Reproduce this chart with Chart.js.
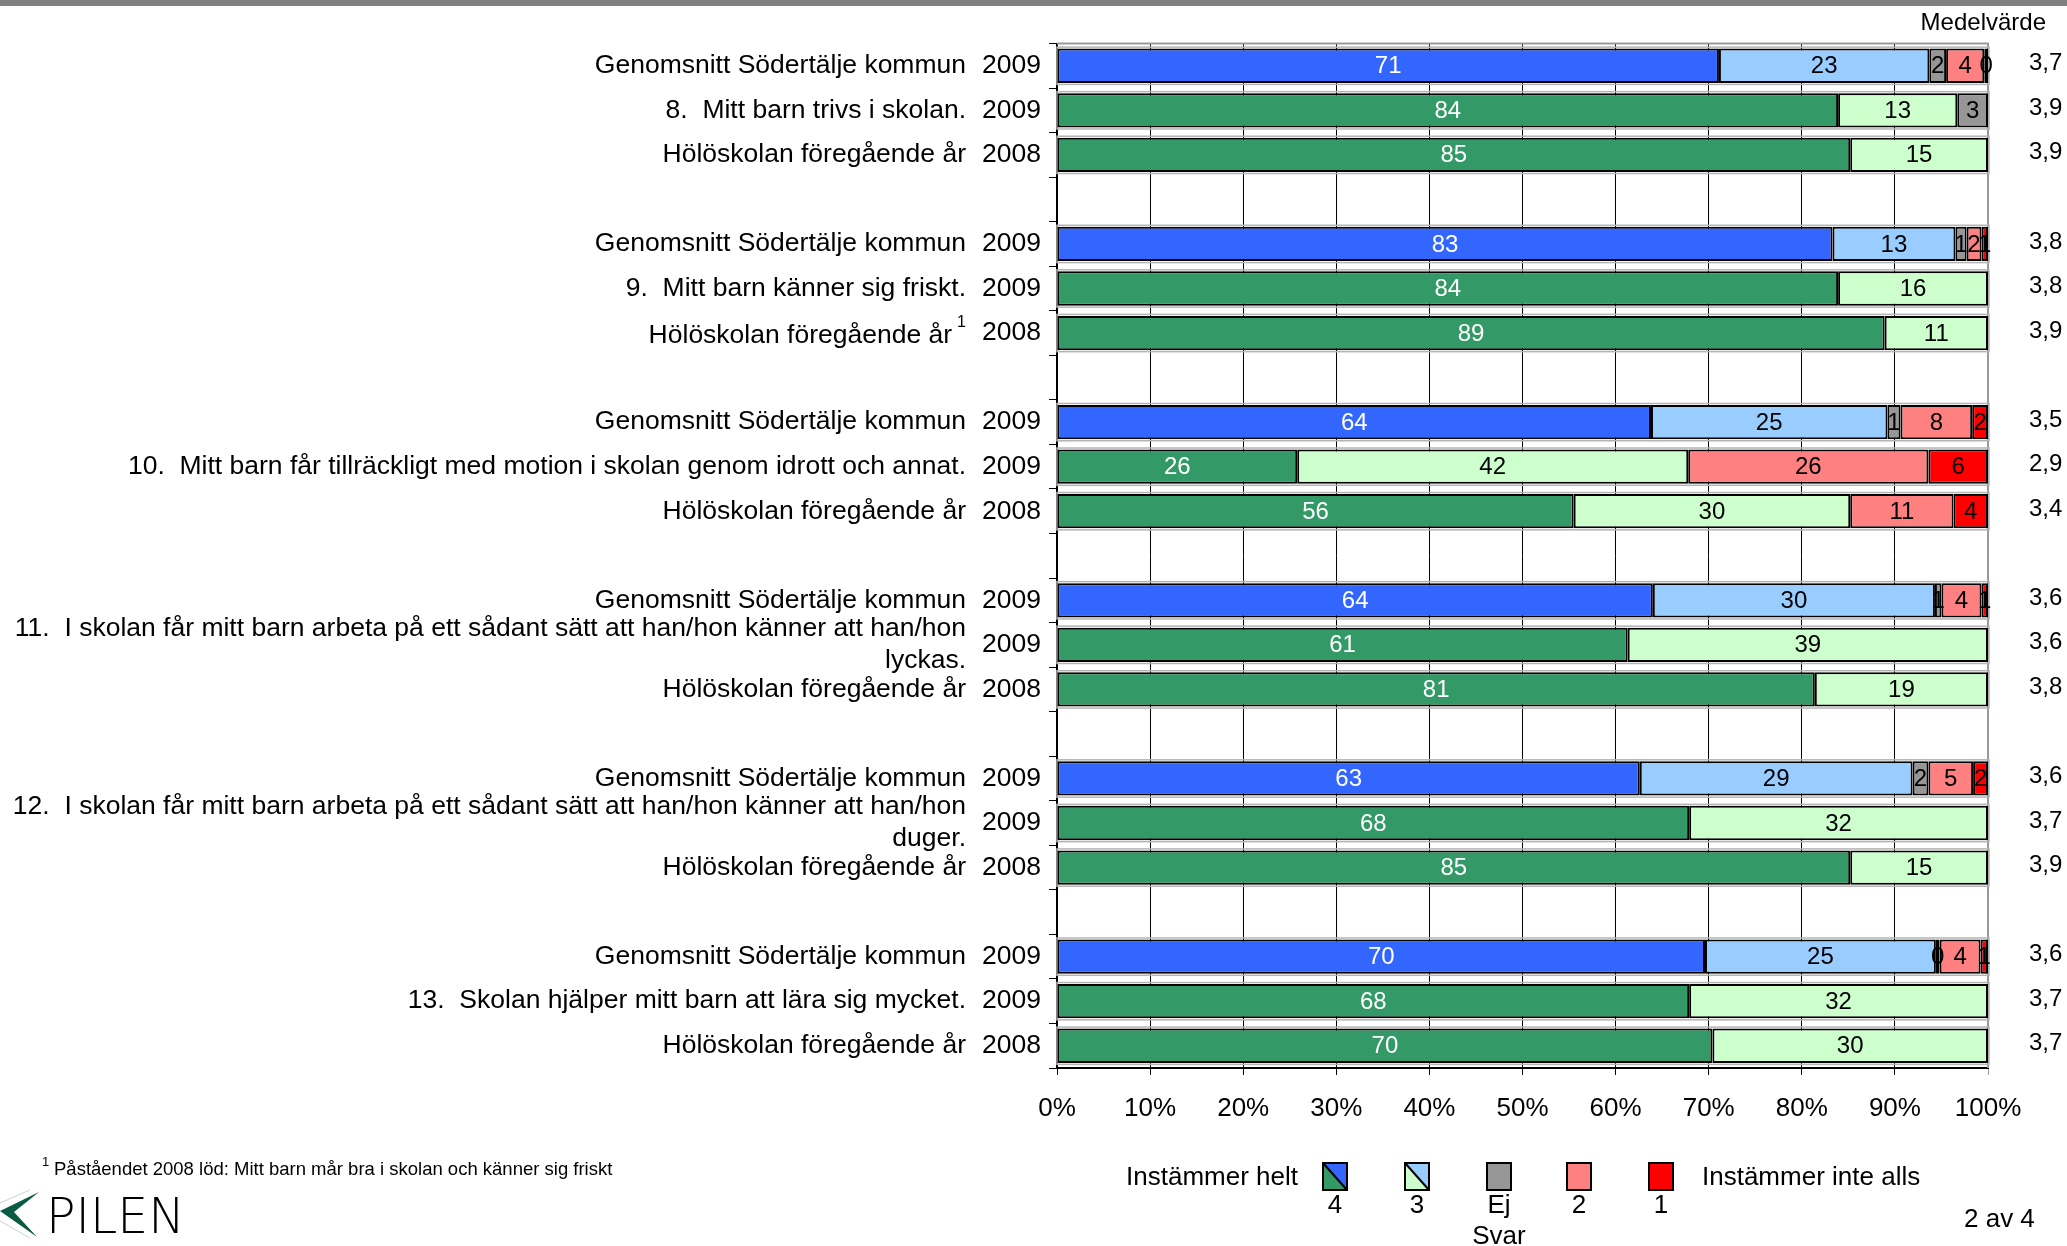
<!DOCTYPE html>
<html><head><meta charset="utf-8">
<script src="https://cdn.jsdelivr.net/npm/chart.js@4.4.1/dist/chart.umd.min.js"></script>
<style>html,body{margin:0;padding:0;background:#fff;overflow:hidden}canvas{display:block}</style>
</head><body>
<canvas id="c" width="2067" height="1246"></canvas>
<script>
// ---- DATA ----
const rowKeys = ["r0","r1","r2","g1","r4","r5","r6","g2","r8","r9","r10","g3","r12","r13","r14","g4","r16","r17","r18","g5","r20","r21","r22"];
const rowLabels = [
  "Genomsnitt Södertälje kommun", "8.  Mitt barn trivs i skolan.", "Hölöskolan föregående år", "",
  "Genomsnitt Södertälje kommun", "9.  Mitt barn känner sig friskt.", "Hölöskolan föregående år", "",
  "Genomsnitt Södertälje kommun", "10.  Mitt barn får tillräckligt med motion i skolan genom idrott och annat.", "Hölöskolan föregående år", "",
  "Genomsnitt Södertälje kommun", ["11.  I skolan får mitt barn arbeta på ett sådant sätt att han/hon känner att han/hon", "lyckas."], "Hölöskolan föregående år", "",
  "Genomsnitt Södertälje kommun", ["12.  I skolan får mitt barn arbeta på ett sådant sätt att han/hon känner att han/hon", "duger."], "Hölöskolan föregående år", "",
  "Genomsnitt Södertälje kommun", "13.  Skolan hjälper mitt barn att lära sig mycket.", "Hölöskolan föregående år"
];
const rowNotes = ["","","","","","","1","","","","","","","","","","","","","","","",""];
const years = ["2009","2009","2008","","2009","2009","2008","","2009","2009","2008","","2009","2009","2008","","2009","2009","2008","","2009","2009","2008"];
const rowIsAverage = [1,0,0,0,1,0,0,0,1,0,0,0,1,0,0,0,1,0,0,0,1,0,0];
const means = ["3,7","3,9","3,9","","3,8","3,8","3,9","","3,5","2,9","3,4","","3,6","3,6","3,8","","3,6","3,7","3,9","","3,6","3,7","3,7"];

const v4  = [71.1, 83.9, 85.2, null, 83.3, 83.9, 88.9, null, 63.8, 25.8, 55.5, null, 64.0, 61.3, 81.4, null, 62.6, 67.9, 85.2, null, 69.6, 67.9, 70.4];
const v3  = [22.6, 12.8, 14.8, null, 13.2, 16.1, 11.1, null, 25.4, 42.0, 29.7, null, 30.3, 38.7, 18.6, null, 29.3, 32.1, 14.8, null, 24.8, 32.1, 29.6];
const vEj = [1.8, 3.3, null, null, 1.2, null, null, null, 1.4, null, null, null, 0.7, null, null, null, 1.7, null, null, null, 0.4, null, null];
const v2  = [4.1, null, null, null, 1.6, null, null, null, 7.7, 25.8, 11.1, null, 4.3, null, null, null, 4.8, null, null, null, 4.4, null, null];
const v1  = [0.4, null, null, null, 0.7, null, null, null, 1.7, 6.4, 3.7, null, 0.7, null, null, null, 1.6, null, null, null, 0.8, null, null];

const xTicks = [0,10,20,30,40,50,60,70,80,90,100];
const legendCodes = ["4","3","Ej","2","1"];

// ---- STYLE ----
const FONT = '"Liberation Sans", Arial, sans-serif';
const C = {blue:"#3366FF", lblue:"#99CCFF", green:"#339966", lgreen:"#CCFFCC", gray:"#969696", pink:"#FF8080", red:"#FF0000"};
Chart.defaults.font.family = FONT;

const pick = (a, b) => (ctx) => rowIsAverage[ctx.dataIndex] ? a : b;
const mk = (label, data, bg) => ({label, data, backgroundColor: bg, borderColor: "#000", borderWidth: 2, borderSkipped: false, barPercentage: 0.77, categoryPercentage: 1});

const deco = {
  id: "deco",
  beforeDraw(chart) {
    const ctx = chart.ctx;
    ctx.save();
    ctx.fillStyle = "#fff"; ctx.fillRect(0, 0, chart.width, chart.height);
    ctx.fillStyle = "#808080"; ctx.fillRect(0, 0, chart.width, 6);
    ctx.restore();
  },
  beforeDatasetsDraw(chart) {
    const {ctx, chartArea: a} = chart;
    ctx.save();
    ctx.strokeStyle = "#999"; ctx.lineWidth = 2;
    ctx.beginPath(); ctx.moveTo(a.left, a.top); ctx.lineTo(a.right, a.top); ctx.lineTo(a.right, a.bottom); ctx.stroke();
    // light gray halo around each full bar
    const m0 = chart.getDatasetMeta(0);
    ctx.strokeStyle = "#b4b4b4"; ctx.lineWidth = 1.5;
    m0.data.forEach((el, j) => {
      if (chart.data.datasets[0].data[j] == null) return;
      let right = el.x;
      chart.data.datasets.forEach((ds, di) => {
        if (ds.data[j] != null) right = Math.max(right, chart.getDatasetMeta(di).data[j].x);
      });
      const h = el.height;
      ctx.strokeRect(el.base - 0.5, el.y - h / 2 - 1.5, right - el.base + 1.5, h + 3);
    });
    ctx.restore();
  },
  afterDraw(chart) {
    const ctx = chart.ctx;
    const ys = chart.scales.y;
    ctx.save();
    ctx.textBaseline = "middle";
    const LF = "26.5px " + FONT;
    ctx.fillStyle = "#000";
    for (let i = 0; i < rowKeys.length; i++) {
      const y = ys.getPixelForValue(i);
      const lab = rowLabels[i];
      ctx.font = LF;
      if (Array.isArray(lab)) {
        ctx.textAlign = "right";
        ctx.fillText(lab[0], 966, y - 16);
        ctx.fillText(lab[1], 966, y + 16);
      } else if (lab) {
        let right = 966;
        if (rowNotes[i]) {
          ctx.font = "16px " + FONT; ctx.textAlign = "right";
          ctx.fillText(rowNotes[i], right, y - 10);
          right -= ctx.measureText(rowNotes[i]).width + 5;
          ctx.font = LF;
        }
        ctx.textAlign = "right";
        ctx.fillText(lab, right, y + (rowNotes[i] ? 3 : 0));
      }
      ctx.font = LF;
      if (years[i]) { ctx.textAlign = "right"; ctx.fillText(years[i], 1041, y); }
      if (means[i]) { ctx.font = "24px " + FONT; ctx.textAlign = "left"; ctx.fillText(means[i], 2029, y - 2); }
    }
    ctx.font = "24px " + FONT; ctx.textAlign = "right";
    ctx.fillText("Medelvärde", 2046, 23);
    // bar value labels
    ctx.font = "24px " + FONT; ctx.textAlign = "center";
    chart.data.datasets.forEach((ds, di) => {
      const meta = chart.getDatasetMeta(di);
      meta.data.forEach((el, j) => {
        const v = ds.data[j];
        if (v === null || v === undefined) return;
        ctx.fillStyle = di === 0 ? "#fff" : "#000";
        ctx.fillText(String(Math.round(v)), (el.x + el.base) / 2, el.y + 1);
      });
    });
    // legend
    ctx.fillStyle = "#000";
    ctx.font = "26px " + FONT;
    ctx.textAlign = "right"; ctx.fillText("Instämmer helt", 1298, 1178);
    ctx.textAlign = "left"; ctx.fillText("Instämmer inte alls", 1702, 1178);
    const lx = [1335, 1417, 1499, 1579, 1661];
    const bw = 24, bh = 27, bt = 1163;
    const fills = [[C.blue, C.green], [C.lblue, C.lgreen], [C.gray], [C.pink], [C.red]];
    lx.forEach((cx, k) => {
      const x0 = cx - bw / 2;
      const f = fills[k];
      if (f.length === 2) {
        ctx.fillStyle = f[0];
        ctx.beginPath(); ctx.moveTo(x0, bt); ctx.lineTo(x0 + bw, bt); ctx.lineTo(x0 + bw, bt + bh); ctx.closePath(); ctx.fill();
        ctx.fillStyle = f[1];
        ctx.beginPath(); ctx.moveTo(x0, bt); ctx.lineTo(x0, bt + bh); ctx.lineTo(x0 + bw, bt + bh); ctx.closePath(); ctx.fill();
        ctx.strokeStyle = "#000"; ctx.lineWidth = 2;
        ctx.beginPath(); ctx.moveTo(x0, bt); ctx.lineTo(x0 + bw, bt + bh); ctx.stroke();
      } else {
        ctx.fillStyle = f[0]; ctx.fillRect(x0, bt, bw, bh);
      }
      ctx.strokeStyle = "#000"; ctx.lineWidth = 2; ctx.strokeRect(x0, bt, bw, bh);
      ctx.fillStyle = "#000"; ctx.textAlign = "center"; ctx.font = "26px " + FONT;
      ctx.fillText(legendCodes[k], cx, 1206);
    });
    ctx.fillText("Svar", 1499, 1237);
    ctx.textAlign = "left";
    ctx.fillText("2 av 4", 1964, 1220);
    // footnote
    ctx.font = "13px " + FONT; ctx.fillText("1", 42, 1162);
    ctx.font = "18.5px " + FONT; ctx.fillText("Påståendet 2008 löd: Mitt barn mår bra i skolan och känner sig friskt", 54, 1170);
    // logo
    ctx.strokeStyle = "#c8d2cf"; ctx.lineWidth = 1;
    ctx.beginPath(); ctx.moveTo(0, 1203); ctx.lineTo(30, 1190); ctx.moveTo(0, 1221); ctx.lineTo(30, 1238); ctx.stroke();
    ctx.fillStyle = "#0b5a42";
    ctx.beginPath(); ctx.moveTo(39, 1192); ctx.lineTo(0, 1211); ctx.lineTo(37, 1237); ctx.lineTo(14, 1212); ctx.closePath(); ctx.fill();
    ctx.fillStyle = "#000";
    ctx.font = '200 49px "DejaVu Sans", sans-serif';
    ctx.textBaseline = "alphabetic";
    ctx.fillText("PILEN", 46, 1233);
    ctx.restore();
  }
};

new Chart(document.getElementById("c"), {
  type: "bar",
  data: {
    labels: rowKeys,
    datasets: [
      mk("4", v4, pick(C.blue, C.green)),
      mk("3", v3, pick(C.lblue, C.lgreen)),
      mk("Ej Svar", vEj, C.gray),
      mk("2", v2, C.pink),
      mk("1", v1, C.red)
    ]
  },
  options: {
    indexAxis: "y",
    responsive: false,
    animation: false,
    devicePixelRatio: 1,
    layout: {padding: {top: 43.5, right: 79, left: 0, bottom: 0}},
    plugins: {legend: {display: false}, tooltip: {enabled: false}},
    scales: {
      x: {
        stacked: true, min: 0, max: 100,
        afterBuildTicks: (s) => { s.ticks = xTicks.map(v => ({value: v})); },
        afterFit: (s) => { s.height = 178; },
        ticks: {callback: (v) => v + "%", font: {size: 26}, color: "#000", padding: 18, maxRotation: 0},
        grid: {color: (c) => (c.tick && c.tick.value === 100) ? "#999" : "#000", lineWidth: 1, tickLength: 7},
        border: {display: true, color: "#000", width: 2}
      },
      y: {
        stacked: true,
        afterFit: (s) => { s.width = 1057; },
        ticks: {display: false},
        grid: {drawOnChartArea: false, offset: true, color: "#000", tickLength: 8},
        border: {display: true, color: "#000", width: 2}
      }
    }
  },
  plugins: [deco]
});
</script>
</body></html>
